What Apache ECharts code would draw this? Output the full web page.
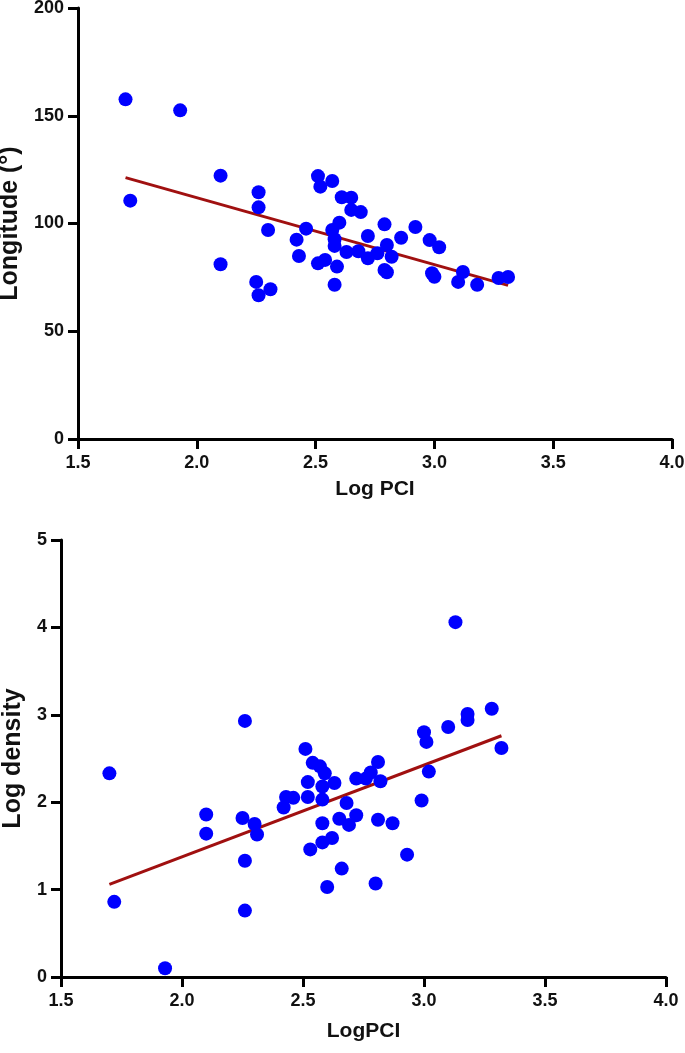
<!DOCTYPE html>
<html lang="en">
<head>
    <meta charset="UTF-8">
    <title>Log PCI scatter</title>
    <script src="https://cdn.jsdelivr.net/npm/echarts@6/dist/echarts.min.js"></script>
    <style>
        html, body {margin: 0; padding: 0; background: #fff;}
        #main {width: 685px; height: 1053px;}
    </style>
</head>
<body>
<div id="main"></div>
<script>
    // top panel: Log PCI vs Longitude
    var topX = [1.70, 1.93, 2.10, 1.72, 2.26, 2.26, 2.30, 2.10, 2.25, 2.31, 2.26,
        2.51, 2.57, 2.52, 2.61, 2.65, 2.65, 2.69, 2.60, 2.57, 2.46, 2.42, 2.58, 2.58,
        2.72, 2.79, 2.92, 2.86, 2.98, 3.02, 2.80, 2.43, 2.51, 2.54, 2.63, 2.68, 2.72,
        2.76, 2.82, 2.59, 2.79, 2.80, 2.58, 2.99, 3.00, 3.12, 3.10, 3.18, 3.27, 3.31];
    var topY = [157.6, 152.5, 122.2, 110.6, 114.5, 107.5, 97.0, 81.1, 72.9, 69.5, 66.7,
        122.0, 119.7, 117.1, 112.2, 112.0, 106.3, 105.3, 100.4, 97.0, 97.6, 92.5, 92.7, 89.6,
        94.2, 99.6, 98.4, 93.4, 92.3, 89.0, 90.0, 84.9, 81.5, 83.1, 86.8, 87.1, 83.9,
        86.2, 84.6, 80.0, 78.4, 77.4, 71.6, 76.9, 75.3, 77.5, 72.9, 71.6, 74.7, 75.2];
    var topFitX = [1.70, 3.31];
    var topFitY = [121.3, 71.3];

    // bottom panel: LogPCI vs Log density
    var botX = [1.70, 1.72, 1.93, 2.10, 2.10, 2.26, 2.25, 2.30, 2.31, 2.26, 2.26,
        2.42, 2.43, 2.46, 2.51, 2.54, 2.57, 2.59, 2.52, 2.58, 2.52, 2.58, 2.58, 2.58,
        2.53, 2.60, 2.81, 2.78, 2.72, 2.76, 2.82, 2.63, 2.68, 2.72, 2.65, 2.69, 2.81,
        2.87, 2.62, 2.93, 2.66, 2.80, 3.13, 3.28, 3.18, 3.18, 3.10, 3.00, 3.01, 3.32,
        3.02, 2.99];
    var botY = [2.33, 0.86, 0.10, 1.86, 1.64, 2.93, 1.82, 1.75, 1.63, 1.33, 0.76,
        1.94, 2.06, 2.05, 2.61, 2.45, 2.41, 2.33, 2.23, 2.18, 2.06, 2.03, 1.76, 1.54,
        1.46, 1.03, 2.46, 2.34, 2.27, 2.27, 2.24, 2.22, 1.99, 1.85, 1.81, 1.74, 1.80,
        1.76, 1.59, 1.40, 1.24, 1.07, 4.06, 3.07, 3.01, 2.94, 2.86, 2.80, 2.69, 2.62,
        2.35, 2.02];
    var botFitX = [1.70, 3.32];
    var botFitY = [1.06, 2.76];

    var font = 'Liberation Sans, Arial, sans-serif';

    function pairs(xs, ys) {
        return xs.map(function (x, i) { return [x, ys[i]]; });
    }

    function xAxisCfg(grid, name, gap) {
        return {
            type: 'value', gridIndex: grid, min: 1.5, max: 4, interval: 0.5,
            name: name, nameLocation: 'middle', nameGap: gap,
            nameTextStyle: {fontFamily: font, fontWeight: 'bold', fontSize: 21, color: '#111'},
            axisLine: {onZero: false, lineStyle: {color: '#000', width: 3}},
            axisTick: {length: 10, lineStyle: {color: '#000', width: 3}},
            axisLabel: {
                margin: 15, fontFamily: font, fontWeight: 'bold', fontSize: 18, color: '#111',
                formatter: function (v) { return v.toFixed(1); }
            },
            splitLine: {show: false}
        };
    }

    function yAxisCfg(grid, name, max, step, gap) {
        return {
            type: 'value', gridIndex: grid, min: 0, max: max, interval: step,
            name: name, nameLocation: 'middle', nameGap: gap, nameRotate: 90,
            nameTextStyle: {fontFamily: font, fontWeight: 'bold', fontSize: 25, color: '#111'},
            axisLine: {show: true, onZero: false, lineStyle: {color: '#000', width: 3}},
            axisTick: {show: true, length: 10, lineStyle: {color: '#000', width: 3}},
            axisLabel: {margin: 14, fontFamily: font, fontWeight: 'bold', fontSize: 18, color: '#111'},
            splitLine: {show: false}
        };
    }

    var myChart = echarts.init(document.getElementById('main'), null, {renderer: 'canvas'});

    myChart.setOption({
        animation: false,
        backgroundColor: '#fff',
        grid: [
            {left: 78, top: 8, width: 594, height: 431, containLabel: false, outerBoundsMode: 'none'},
            {left: 61, top: 540, width: 605, height: 437, containLabel: false, outerBoundsMode: 'none'}
        ],
        xAxis: [xAxisCfg(0, 'Log PCI', 40), xAxisCfg(1, 'LogPCI', 44)],
        yAxis: [yAxisCfg(0, 'Longitude (°)', 200, 50, 48), yAxisCfg(1, 'Log density', 5, 1, 31)],
        series: [
            {
                type: 'line', xAxisIndex: 0, yAxisIndex: 0, data: pairs(topFitX, topFitY),
                symbol: 'none', lineStyle: {color: '#a01010', width: 3}, z: 2
            },
            {
                type: 'scatter', xAxisIndex: 0, yAxisIndex: 0, data: pairs(topX, topY),
                symbolSize: 14, itemStyle: {color: '#0000ff', opacity: 1}, z: 3
            },
            {
                type: 'line', xAxisIndex: 1, yAxisIndex: 1, data: pairs(botFitX, botFitY),
                symbol: 'none', lineStyle: {color: '#a01010', width: 3}, z: 2
            },
            {
                type: 'scatter', xAxisIndex: 1, yAxisIndex: 1, data: pairs(botX, botY),
                symbolSize: 14, itemStyle: {color: '#0000ff', opacity: 1}, z: 3
            }
        ]
    });
</script>
</body>
</html>
